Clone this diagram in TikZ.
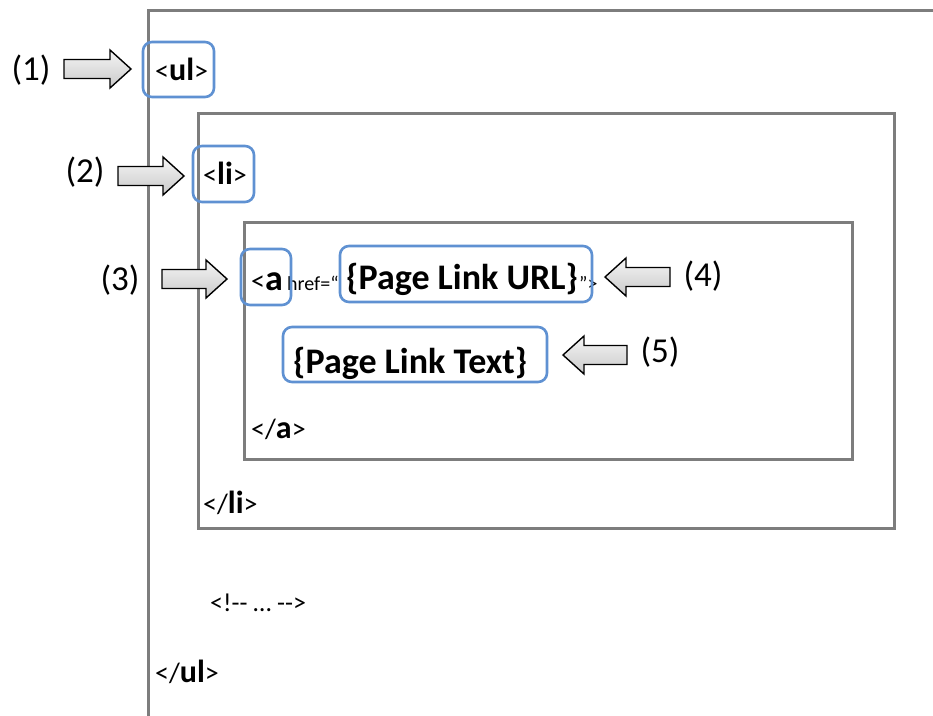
\documentclass[tikz,border=0pt]{standalone}
\usepackage{fontspec}
\setmainfont{Carlito}
\definecolor{framegray}{RGB}{125,125,125}
\definecolor{hlblue}{RGB}{95,145,210}
\newcommand\smt[1]{{\fontsize{28}{32}\selectfont #1}}
\newcommand\cmt[1]{{\fontsize{26}{30}\selectfont #1}}
\newcommand\tnt[1]{{\fontsize{20}{24}\selectfont #1}}
\newcommand\bgt[1]{{\fontsize{32}{38}\selectfont\bfseries #1}}
\newcommand\hgt[1]{{\fontsize{36}{42}\selectfont\bfseries #1}}
\newcommand\blockarrow[3]{%
  \pgfmathsetmacro\hbx{#1<#2 ? #2-21 : #2+21}%
  \draw[blockarr] (#1,#3-9.5) -- (\hbx,#3-9.5) -- (\hbx,#3-19) -- (#2,#3)
     -- (\hbx,#3+19) -- (\hbx,#3+9.5) -- (#1,#3+9.5) -- cycle;}
\begin{document}
\begin{tikzpicture}[x=1pt,y=-1pt,
  frame/.style={draw=framegray,line width=3pt},
  hl/.style={draw=hlblue,line width=2.6pt,rounded corners=9pt},
  blockarr/.style={draw=black,line width=1.4pt,line join=miter,top color=gray!8,bottom color=gray!42},
  lbl/.style={font=\fontsize{35}{42}\selectfont,inner sep=0pt},
  tag/.style={anchor=base west,inner sep=0pt}]
\useasboundingbox (0,0) rectangle (933,715);
\clip (0,0) rectangle (933,715);
\fill[white] (0,0) rectangle (933,715);
% frames
\draw[frame] (148,730) -- (148,10) -- (945,10);
\draw[frame] (198,113) rectangle (894,528);
\draw[frame] (244,222) rectangle (852,459);
% texts
\node[tag] (ulopen) at (155,80) {\smt{<}\bgt{ul}\smt{>}};
\node[tag] (liopen) at (203,184) {\smt{<}\bgt{li}\smt{>}};
\node[tag] (aopen) at (251,290) {\smt{<}\hgt{a}};
\node[tag] (href) at (287,290) {\tnt{href=“}};
\node[tag] (url) at (346,289) {\hgt{\{Page Link URL\}}};
\node[tag] (aend) at (579,290) {\tnt{”>}};
\node[tag] (ltext) at (293,373) {\hgt{\{Page Link Text\}}};
\node[tag] (aclose) at (251,438) {\smt{</}\bgt{a}\smt{>}};
\node[tag] (liclose) at (203,513) {\smt{</}\bgt{li}\smt{>}};
\node[tag] (comment) at (210,611) {\cmt{<!-\kern0pt- … -\kern0pt->}};
\node[tag] (ulclose) at (155,682) {\smt{</}\bgt{ul}\smt{>}};
% highlight boxes
\draw[hl] (143,42) rectangle (214,97);
\draw[hl] (193,146) rectangle (254,202);
\draw[hl] (241,249) rectangle (291,305);
\draw[hl] (340,246) rectangle (592,302);
\draw[hl] (283,327) rectangle (547,382);
% arrows
\blockarrow{64}{131}{69}
\blockarrow{118}{184}{176}
\blockarrow{162}{227}{279}
\blockarrow{670}{605}{277}
\blockarrow{627}{563}{355}
% labels
\node[lbl] (l1) at (31,70) {(1)};
\node[lbl] (l2) at (85,172) {(2)};
\node[lbl] (l3) at (120,280) {(3)};
\node[lbl] (l4) at (703,276) {(4)};
\node[lbl] (l5) at (660,352) {(5)};
\end{tikzpicture}
\end{document}
